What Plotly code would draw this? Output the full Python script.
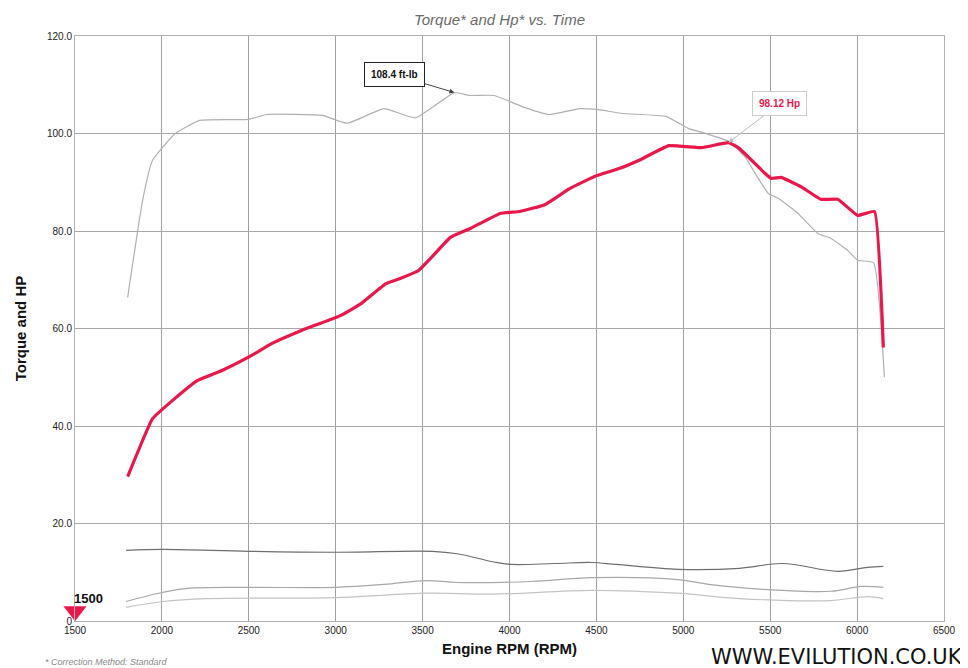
import plotly.graph_objects as go

# Data
hp_rpm = [1803, 1946, 2060, 2203, 2346, 2517, 2631, 2803, 3031, 3146, 3289, 3374, 3477, 3546, 3660, 3774,
          3946, 4060, 4203, 4346, 4489, 4631, 4746, 4917, 5106, 5260, 5317, 5471, 5506, 5563, 5677, 5791,
          5889, 6003, 6100, 6151]
hp_val = [29.6, 41.5, 45.2, 49.3, 51.4, 54.5, 56.9, 59.6, 62.7, 65.1, 69.2, 70.3, 71.9, 74.4, 78.7, 80.5,
          83.6, 84.0, 85.4, 88.7, 91.2, 92.8, 94.5, 97.5, 97.1, 98.12, 97.1, 91.8, 90.8, 91.0, 89.1, 86.5,
          86.5, 83.2, 84.0, 56.1]

tq_rpm = [1803, 1889, 1946, 2077, 2217, 2500, 2603, 2923, 3066, 3277, 3460, 3683, 3769, 3911, 4089, 4226,
          4403, 4511, 4651, 4900, 5031, 5129, 5260, 5357, 5414, 5489, 5546, 5660, 5774, 5849, 5946, 6003,
          6094, 6157]
tq_val = [66.4, 86.3, 94.5, 100.0, 102.7, 102.9, 103.9, 103.7, 102.1, 105.1, 103.2, 108.4, 107.8, 107.8,
          105.3, 103.9, 105.1, 104.9, 104.1, 103.5, 101.0, 100.0, 98.4, 95.1, 91.8, 87.7, 86.7, 83.6, 79.5,
          78.5, 76.0, 74.0, 73.5, 50.0]

a_rpm = [1794, 2006, 2500, 2994, 3557, 3700, 3911, 4014, 4263, 4474, 4614, 4969, 5323, 5569, 5889, 6060, 6151]
a_val = [14.5, 14.7, 14.3, 14.1, 14.3, 13.8, 12.1, 11.6, 11.8, 12.0, 11.6, 10.6, 10.8, 11.8, 10.2, 11.0, 11.2]

b_rpm = [1794, 2006, 2149, 2500, 2994, 3277, 3523, 3700, 4123, 4474, 4969, 5146, 5460, 5849, 6026, 6151]
b_val = [4.0, 5.9, 6.7, 6.9, 6.9, 7.5, 8.3, 7.9, 8.1, 8.9, 8.5, 7.5, 6.5, 6.1, 7.1, 6.9]

c_rpm = [1794, 2006, 2254, 2994, 3523, 3911, 4474, 4969, 5323, 5849, 6060, 6151]
c_val = [2.8, 4.0, 4.6, 4.8, 5.7, 5.5, 6.3, 5.7, 4.6, 4.2, 5.0, 4.6]

x_ticks = [1500, 2000, 2500, 3000, 3500, 4000, 4500, 5000, 5500, 6000, 6500]
y_ticks = [0, 20, 40, 60, 80, 100, 120]
y_labels = ["0", "20.0", "40.0", "60.0", "80.0", "100.0", "120.0"]

RED = "#e8184a"
NARROW = "Liberation Sans Narrow, Arial Narrow, Liberation Sans, sans-serif"
SANS = "Liberation Sans, Arial, sans-serif"

fig = go.Figure()
fig.add_trace(go.Scatter(x=c_rpm, y=c_val, mode="lines", line=dict(color="#c4c4c4", width=1.2, shape="spline")))
fig.add_trace(go.Scatter(x=b_rpm, y=b_val, mode="lines", line=dict(color="#a8a8a8", width=1.2, shape="spline")))
fig.add_trace(go.Scatter(x=a_rpm, y=a_val, mode="lines", line=dict(color="#6e6e6e", width=1.2, shape="spline")))
fig.add_trace(go.Scatter(x=tq_rpm, y=tq_val, mode="lines", line=dict(color="#b0b0b0", width=1.2, shape="spline", smoothing=0.4)))
fig.add_trace(go.Scatter(x=hp_rpm, y=hp_val, mode="lines", line=dict(color=RED, width=3.2, shape="spline", smoothing=0.3)))
fig.add_trace(go.Scatter(x=[x_ticks[0]], y=[2.0], mode="markers", cliponaxis=False,
                         marker=dict(symbol="triangle-down", size=20, color=RED)))

fig.update_layout(
    width=960, height=660, showlegend=False,
    paper_bgcolor="white", plot_bgcolor="white",
    margin=dict(l=64, r=21, t=28, b=47),
    title=dict(text="<i>Torque* and Hp* vs. Time</i>", x=0.512, xanchor="center", y=0.982, yanchor="middle",
               font=dict(family=SANS, size=15, color="#6a6a6a")),
    xaxis=dict(range=[1500, 6500], tickvals=x_ticks, ticktext=[str(v) for v in x_ticks],
               showgrid=True, gridcolor="#a0a0a0", gridwidth=1, zeroline=False,
               showline=True, linecolor="#b0b0b0", mirror=True, ticks="",
               tickfont=dict(family=NARROW, size=10, color="#222"),
               title=dict(text="<b>Engine RPM (RPM)</b>", standoff=8,
                          font=dict(family=SANS, size=15, color="#111"))),
    yaxis=dict(range=[0, 120], tickvals=y_ticks, ticktext=y_labels,
               showgrid=True, gridcolor="#a8a8a8", gridwidth=1, zeroline=False,
               showline=True, linecolor="#b0b0b0", mirror=True, ticks="",
               tickfont=dict(family=NARROW, size=10, color="#222"),
               title=dict(text="<b>Torque and HP</b>", standoff=16,
                          font=dict(family=SANS, size=15, color="#111"))),
)

fig.add_annotation(x=x_ticks[0], y=4.6, text="<b>1500</b>", showarrow=False, xanchor="left",
                   yanchor="middle", xshift=-3, font=dict(family=SANS, size=13, color="#111"))
fig.add_annotation(x=tq_rpm[11], y=tq_val[11], text="<b>%.1f ft-lb</b>" % tq_val[11],
                   showarrow=True, arrowhead=2, arrowsize=1, arrowwidth=1, arrowcolor="#444",
                   ax=-60, ay=-18, bordercolor="#222", borderwidth=1, borderpad=6, bgcolor="white",
                   font=dict(family=NARROW, size=10, color="#111"))
fig.add_annotation(x=hp_rpm[25], y=hp_val[25], text="<b>%.2f Hp</b>" % hp_val[25],
                   showarrow=True, arrowhead=2, arrowsize=1, arrowwidth=1, arrowcolor="#bbbbbb",
                   ax=51, ay=-39, bordercolor="#cccccc", borderwidth=1, borderpad=6, bgcolor="white",
                   font=dict(family=NARROW, size=10, color=RED))
fig.add_annotation(xref="paper", yref="paper", x=-0.037, y=-0.07, xanchor="left", yanchor="middle",
                   text="<i>* Correction Method: Standard</i>", showarrow=False,
                   font=dict(family=SANS, size=9, color="#888"))
fig.add_annotation(xref="paper", yref="paper", x=1.024, y=-0.0615, xanchor="right", yanchor="middle",
                   text="WWW.EVILUTION.CO.UK", showarrow=False,
                   font=dict(family="DejaVu Sans, sans-serif", size=21, color="#111"))

fig.write_html("out.html")
